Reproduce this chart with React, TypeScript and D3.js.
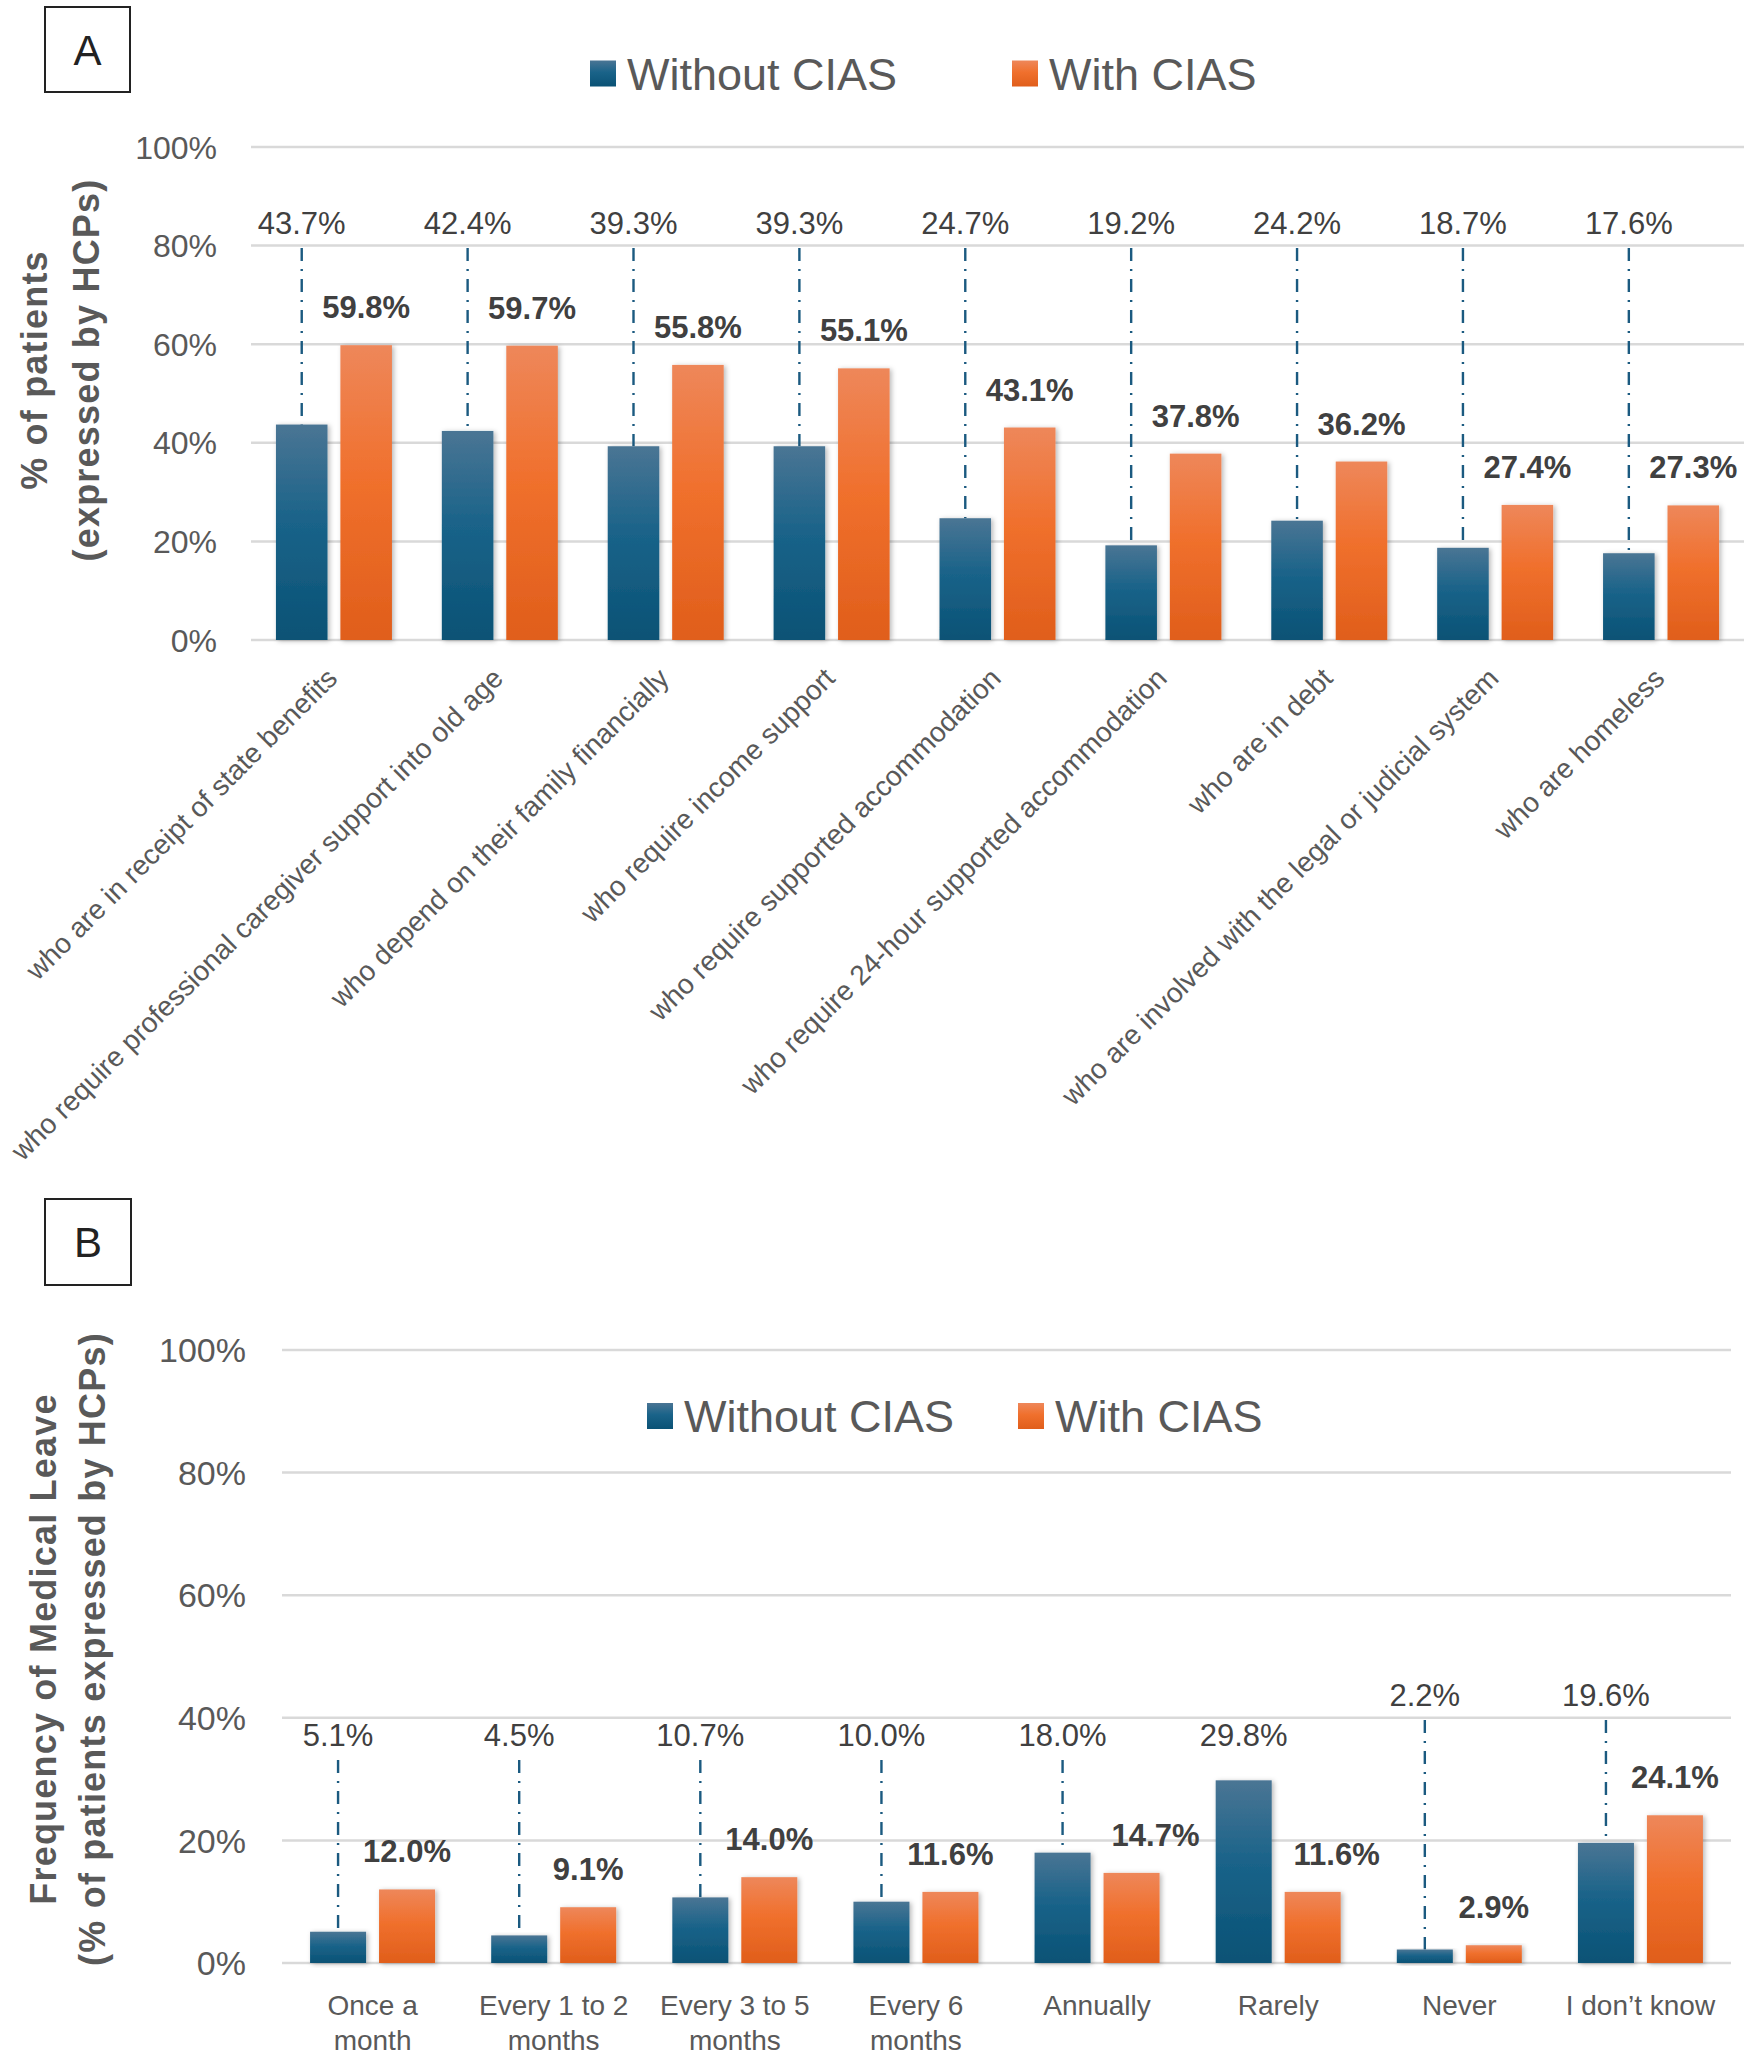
import React from "react";
import * as d3 from "d3";

// ---------- DATA ----------
const categoriesA = [
  "who are in receipt of state benefits",
  "who require professional caregiver support into old age",
  "who depend on their family financially",
  "who require income support",
  "who require supported accommodation",
  "who require 24-hour supported accommodation",
  "who are in debt",
  "who are involved with the legal or judicial system",
  "who are homeless",
];
const withoutCIAS_A = [43.7, 42.4, 39.3, 39.3, 24.7, 19.2, 24.2, 18.7, 17.6];
const withCIAS_A = [59.8, 59.7, 55.8, 55.1, 43.1, 37.8, 36.2, 27.4, 27.3];

const categoriesB = [
  ["Once a", "month"],
  ["Every 1 to 2", "months"],
  ["Every 3 to 5", "months"],
  ["Every 6", "months"],
  ["Annually"],
  ["Rarely"],
  ["Never"],
  ["I don\u2019t know"],
];
const withoutCIAS_B = [5.1, 4.5, 10.7, 10.0, 18.0, 29.8, 2.2, 19.6];
const withCIAS_B = [12.0, 9.1, 14.0, 11.6, 14.7, 11.6, 2.9, 24.1];

const yTicks = [0, 20, 40, 60, 80, 100];
const seriesNames = ["Without CIAS", "With CIAS"];

// ---------- STYLE ----------
const FONT = "'Liberation Sans', Arial, Helvetica, sans-serif";
const GRID = "#d9d9d9";
const TICK_COLOR = "#595959";
const LABEL_COLOR = "#404040";
const LEADER = "#1b5a80";
const RAISED_B_LABELS = new Set(["Never", "I don\u2019t know"]);

const fmt = (v: number) => v.toFixed(1) + "%";

function Defs() {
  return (
    <defs>
      <linearGradient id="gBlue" x1="0" y1="0" x2="0" y2="1">
        <stop offset="0%" stopColor="#4a7594" />
        <stop offset="45%" stopColor="#1a6389" />
        <stop offset="100%" stopColor="#0a5275" />
      </linearGradient>
      <linearGradient id="gOrange" x1="0" y1="0" x2="0" y2="1">
        <stop offset="0%" stopColor="#ee875a" />
        <stop offset="45%" stopColor="#f0702d" />
        <stop offset="100%" stopColor="#e05e1b" />
      </linearGradient>
      <filter id="shadow" x="-30%" y="-10%" width="160%" height="125%">
        <feDropShadow dx="2" dy="1" stdDeviation="2.5" floodColor="#000" floodOpacity="0.28" />
      </filter>
    </defs>
  );
}

type PanelProps = {
  letter: string;
  box: [number, number, number, number];
  legend: { y: number; blueX: number; orangeX: number; size: number; font: number };
  plot: { left: number; right: number; y0: number; y100: number };
  group: number;
  innerPad: number;
  tickFont: number;
  tickRight: number;
  titleLines: string[];
  titleXs: number[];
  titleY: number;
  without: number[];
  withV: number[];
  keys: string[];
  blueLabelY: (i: number) => number;
  xLabels: (x: (k: string) => number, bw: number) => React.ReactNode;
};

function Panel(p: PanelProps) {
  const x0 = d3.scaleBand<string>().domain(p.keys).range([p.plot.left, p.plot.right]).padding(0);
  const bw = x0.bandwidth();
  const x1 = d3
    .scaleBand<string>()
    .domain(seriesNames)
    .range([(bw - p.group) / 2, (bw + p.group) / 2])
    .paddingInner(p.innerPad);
  const y = d3.scaleLinear().domain([0, 100]).range([p.plot.y0, p.plot.y100]);
  const w = x1.bandwidth();
  const [bx, by, bW, bH] = p.box;

  return (
    <g>
      {/* panel letter */}
      <rect x={bx} y={by} width={bW} height={bH} fill="none" stroke="#222" strokeWidth={2} />
      <text x={bx + bW / 2} y={by + bH / 2} dy="0.36em" textAnchor="middle" fontSize={42} fill="#222" fontFamily={FONT}>
        {p.letter}
      </text>

      {/* gridlines and ticks */}
      {yTicks.map((t) => (
        <g key={t}>
          <line x1={p.plot.left} x2={p.plot.right} y1={y(t)} y2={y(t)} stroke={GRID} strokeWidth={2.5} />
          <text
            x={p.tickRight}
            y={y(t)}
            dy="0.36em"
            textAnchor="end"
            fontSize={p.tickFont}
            fill={TICK_COLOR}
            fontFamily={FONT}
          >
            {t + "%"}
          </text>
        </g>
      ))}

      {/* y title */}
      {p.titleLines.map((ln, i) => (
        <text
          key={i}
          transform={`translate(${p.titleXs[i]},${p.titleY}) rotate(-90)`}
          textAnchor="middle"
          dy="0.36em"
          fontSize={36}
          fontWeight="bold"
          letterSpacing={1.2}
          fill={TICK_COLOR}
          fontFamily={FONT}
        >
          {ln}
        </text>
      ))}

      {/* legend */}
      <rect x={p.legend.blueX} y={p.legend.y - p.legend.size / 2} width={p.legend.size} height={p.legend.size} fill="url(#gBlue)" />
      <text x={p.legend.blueX + p.legend.size + 11} y={p.legend.y} dy="0.36em" fontSize={p.legend.font} fill={TICK_COLOR} fontFamily={FONT}>
        {seriesNames[0]}
      </text>
      <rect x={p.legend.orangeX} y={p.legend.y - p.legend.size / 2} width={p.legend.size} height={p.legend.size} fill="url(#gOrange)" />
      <text x={p.legend.orangeX + p.legend.size + 11} y={p.legend.y} dy="0.36em" fontSize={p.legend.font} fill={TICK_COLOR} fontFamily={FONT}>
        {seriesNames[1]}
      </text>

      {/* bars */}
      {p.keys.map((k, i) => {
        const gx = x0(k)!;
        const bxB = gx + x1(seriesNames[0])!;
        const bxO = gx + x1(seriesNames[1])!;
        const vb = p.without[i];
        const vo = p.withV[i];
        const lblY = p.blueLabelY(i);
        const leaderTop = lblY + 14;
        const cxB = bxB + w / 2;
        const cxO = bxO + w / 2;
        // nudge the orange label right when the blue bar is taller (avoid overlap)
        const nudge = vb > vo ? 24 : 0;
        return (
          <g key={k}>
            {y(vb) - leaderTop > 30 && (
              <line
                x1={cxB}
                x2={cxB}
                y1={leaderTop}
                y2={y(vb)}
                stroke={LEADER}
                strokeWidth={2.4}
                strokeDasharray="13,8,2,8"
              />
            )}
            <rect x={bxB} y={y(vb)} width={w} height={y(0) - y(vb)} fill="url(#gBlue)" filter="url(#shadow)" />
            <rect x={bxO} y={y(vo)} width={w} height={y(0) - y(vo)} fill="url(#gOrange)" filter="url(#shadow)" />
            <text x={cxB} y={lblY} textAnchor="middle" fontSize={31} fill={LABEL_COLOR} fontFamily={FONT}>
              {fmt(vb)}
            </text>
            <text
              x={cxO + nudge}
              y={y(vo) - 27}
              textAnchor="middle"
              fontSize={31}
              fontWeight="bold"
              fill={LABEL_COLOR}
              fontFamily={FONT}
            >
              {fmt(vo)}
            </text>
          </g>
        );
      })}

      {p.xLabels((k) => x0(k)! + bw / 2, bw)}
    </g>
  );
}

export default function App() {
  const keysB = categoriesB.map((c) => c.join(" "));
  return (
    <svg
      width={1750}
      height={2058}
      viewBox="0 0 1750 2058"
      style={{ position: "absolute", left: 0, top: 0, background: "#fff" }}
    >
      <Defs />
      <rect x={0} y={0} width={1750} height={2058} fill="#fff" />
      <Panel
        letter="A"
        box={[45, 7, 85, 85]}
        legend={{ y: 73.5, blueX: 590, orangeX: 1012, size: 26, font: 45 }}
        plot={{ left: 251, right: 1744, y0: 640, y100: 147 }}
        group={116}
        innerPad={0.2}
        tickFont={32}
        tickRight={217}
        titleLines={["% of patients", "(expressed by HCPs)"]}
        titleXs={[34, 86]}
        titleY={370}
        without={withoutCIAS_A}
        withV={withCIAS_A}
        keys={categoriesA}
        blueLabelY={() => 234}
        xLabels={(xc) =>
          categoriesA.map((c) => (
            <text
              key={c}
              transform={`translate(${xc(c) + 5},680) rotate(-45)`}
              textAnchor="end"
              fontSize={28}
              fill={TICK_COLOR}
              fontFamily={FONT}
            >
              {c}
            </text>
          ))
        }
      />
      <Panel
        letter="B"
        box={[45, 1199, 86, 86]}
        legend={{ y: 1416, blueX: 647, orangeX: 1018, size: 26, font: 45 }}
        plot={{ left: 282, right: 1731, y0: 1963, y100: 1350 }}
        group={125}
        innerPad={0.188}
        tickFont={34}
        tickRight={246}
        titleLines={["Frequency of Medical Leave", "(% of patients expressed by HCPs)"]}
        titleXs={[43, 92]}
        titleY={1649}
        without={withoutCIAS_B}
        withV={withCIAS_B}
        keys={keysB}
        blueLabelY={(i) => (RAISED_B_LABELS.has(keysB[i]) ? 1706 : 1746)}
        xLabels={(xc) =>
          categoriesB.map((lines, i) => (
            <text key={i} textAnchor="middle" fontSize={28} fill={TICK_COLOR} fontFamily={FONT}>
              {lines.map((ln, j) => (
                <tspan key={j} x={xc(keysB[i])} y={2015 + j * 35}>
                  {ln}
                </tspan>
              ))}
            </text>
          ))
        }
      />
    </svg>
  );
}
